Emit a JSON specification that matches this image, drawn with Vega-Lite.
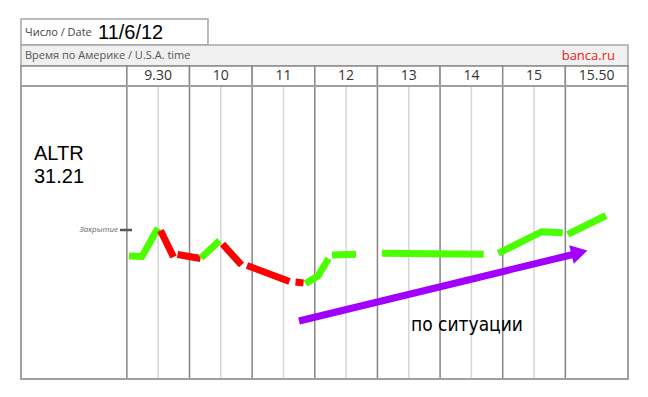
{
  "$schema": "https://vega.github.io/schema/vega-lite/v6.json",
  "padding": {"left": 20, "top": 18, "right": 21, "bottom": 19},
  "autosize": {"type": "pad"},
  "bounds": "flush",
  "background": "white",
  "spacing": 0,
  "config": {"view": {"stroke": null}, "concat": {"spacing": 0}},
  "vconcat": [
    {
      "width": 607,
      "height": 26,
      "encoding": {
        "x": {"field": "s", "type": "quantitative", "scale": {"domain": [-3.38, 16], "nice": false, "zero": false}, "axis": null}
      },
      "layer": [
        {
          "data": {"values": [{"s": -3.38, "s2": 2.59, "r": 0, "r2": 1}]},
          "mark": {"type": "rect", "fill": "white", "stroke": "#a6a6a6", "strokeWidth": 1.5},
          "encoding": {
            "x2": {"field": "s2"},
            "y": {"field": "r", "type": "quantitative", "scale": {"domain": [0, 1]}, "axis": null},
            "y2": {"field": "r2"}
          }
        },
        {
          "data": {"values": [{"s": -3.252, "r": 0.5, "label": "Число / Date"}]},
          "mark": {"type": "text", "align": "left", "baseline": "middle", "font": "Open Sans", "fontSize": 11, "color": "#444444", "dy": 1},
          "encoding": {
            "y": {"field": "r", "type": "quantitative", "scale": {"domain": [0, 1]}, "axis": null},
            "text": {"field": "label"}
          }
        },
        {
          "data": {"values": [{"s": -0.922, "r": 0.5, "label": "11/6/12"}]},
          "mark": {"type": "text", "align": "left", "baseline": "middle", "font": "Liberation Sans", "fontSize": 20, "color": "black", "dy": 1},
          "encoding": {
            "y": {"field": "r", "type": "quantitative", "scale": {"domain": [0, 1]}, "axis": null},
            "text": {"field": "label"}
          }
        }
      ]
    },
    {
      "width": 607,
      "height": 21,
      "encoding": {
        "x": {"field": "s", "type": "quantitative", "scale": {"domain": [-3.38, 16], "nice": false, "zero": false}, "axis": null}
      },
      "layer": [
        {
          "data": {"values": [{"s": -3.38, "s2": 16, "r": 0, "r2": 1}]},
          "mark": {"type": "rect", "fill": "#f0f0f0", "stroke": "#a6a6a6", "strokeWidth": 1.5},
          "encoding": {
            "x2": {"field": "s2"},
            "y": {"field": "r", "type": "quantitative", "scale": {"domain": [0, 1]}, "axis": null},
            "y2": {"field": "r2"}
          }
        },
        {
          "data": {"values": [{"s": -3.252, "r": 0.5, "label": "Время по Америке / U.S.A. time"}]},
          "mark": {"type": "text", "align": "left", "baseline": "middle", "font": "Open Sans", "fontSize": 11, "color": "#555555"},
          "encoding": {
            "y": {"field": "r", "type": "quantitative", "scale": {"domain": [0, 1]}, "axis": null},
            "text": {"field": "label"}
          }
        },
        {
          "data": {"values": [{"s": 15.585, "r": 0.5, "label": "banca.ru"}]},
          "mark": {"type": "text", "align": "right", "baseline": "middle", "font": "Open Sans", "fontSize": 13, "color": "#e3241b"},
          "encoding": {
            "y": {"field": "r", "type": "quantitative", "scale": {"domain": [0, 1]}, "axis": null},
            "text": {"field": "label"}
          }
        }
      ]
    },
    {
      "width": 607,
      "height": 20,
      "encoding": {
        "x": {"field": "s", "type": "quantitative", "scale": {"domain": [-3.38, 16], "nice": false, "zero": false}, "axis": null}
      },
      "layer": [
        {
          "data": {"values": [
            {"s": -3.38, "s2": 0, "r": 0, "r2": 1},
            {"s": 0, "s2": 2, "r": 0, "r2": 1},
            {"s": 2, "s2": 4, "r": 0, "r2": 1},
            {"s": 4, "s2": 6, "r": 0, "r2": 1},
            {"s": 6, "s2": 8, "r": 0, "r2": 1},
            {"s": 8, "s2": 10, "r": 0, "r2": 1},
            {"s": 10, "s2": 12, "r": 0, "r2": 1},
            {"s": 12, "s2": 14, "r": 0, "r2": 1},
            {"s": 14, "s2": 16, "r": 0, "r2": 1}
          ]},
          "mark": {"type": "rect", "fill": "white", "stroke": "#8a8a8a", "strokeWidth": 1.5},
          "encoding": {
            "x2": {"field": "s2"},
            "y": {"field": "r", "type": "quantitative", "scale": {"domain": [0, 1]}, "axis": null},
            "y2": {"field": "r2"}
          }
        },
        {
          "data": {"values": [
            {"s": 1, "r": 0.5, "label": "9.30"},
            {"s": 3, "r": 0.5, "label": "10"},
            {"s": 5, "r": 0.5, "label": "11"},
            {"s": 7, "r": 0.5, "label": "12"},
            {"s": 9, "r": 0.5, "label": "13"},
            {"s": 11, "r": 0.5, "label": "14"},
            {"s": 13, "r": 0.5, "label": "15"},
            {"s": 15, "r": 0.5, "label": "15.50"}
          ]},
          "mark": {"type": "text", "align": "center", "baseline": "middle", "font": "Open Sans", "fontSize": 14, "color": "#333333"},
          "encoding": {
            "y": {"field": "r", "type": "quantitative", "scale": {"domain": [0, 1]}, "axis": null},
            "text": {"field": "label"}
          }
        }
      ]
    },
    {
      "width": 607,
      "height": 293,
      "encoding": {
        "x": {"field": "s", "type": "quantitative", "scale": {"domain": [-3.38, 16], "nice": false, "zero": false}, "axis": null}
      },
      "layer": [
        {
          "data": {"values": [{"s": 1}, {"s": 3}, {"s": 5}, {"s": 7}, {"s": 9}, {"s": 11}, {"s": 13}]},
          "mark": {"type": "rule", "color": "#d6d6d6", "strokeWidth": 1.5},
          "encoding": {}
        },
        {
          "data": {"values": [{"s": 0}, {"s": 2}, {"s": 4}, {"s": 6}, {"s": 8}, {"s": 10}, {"s": 12}, {"s": 14}]},
          "mark": {"type": "rule", "color": "#858585", "strokeWidth": 1.5},
          "encoding": {}
        },
        {
          "data": {"values": [{"s": -3.38, "s2": 16, "p": 29.72, "p2": 32.65}]},
          "mark": {"type": "rect", "filled": false, "stroke": "#a0a0a0", "strokeWidth": 2},
          "encoding": {
            "x2": {"field": "s2"},
            "y": {"field": "p", "type": "quantitative", "scale": {"domain": [29.72, 32.65], "nice": false, "zero": false}, "axis": null},
            "y2": {"field": "p2"}
          }
        },
        {
          "data": {"values": [
            {"seg": 1, "dir": "up", "s": 0.068, "p": 30.95},
            {"seg": 1, "dir": "up", "s": 0.483, "p": 30.945},
            {"seg": 1, "dir": "up", "s": 0.994, "p": 31.23},
            {"seg": 2, "dir": "down", "s": 1.074, "p": 31.205},
            {"seg": 2, "dir": "down", "s": 1.489, "p": 30.94},
            {"seg": 3, "dir": "down", "s": 1.617, "p": 30.965},
            {"seg": 3, "dir": "down", "s": 2.351, "p": 30.925},
            {"seg": 4, "dir": "up", "s": 2.367, "p": 30.93},
            {"seg": 4, "dir": "up", "s": 2.958, "p": 31.105},
            {"seg": 5, "dir": "down", "s": 3.053, "p": 31.07},
            {"seg": 5, "dir": "down", "s": 3.66, "p": 30.86},
            {"seg": 6, "dir": "down", "s": 3.836, "p": 30.855},
            {"seg": 6, "dir": "down", "s": 5.193, "p": 30.695},
            {"seg": 7, "dir": "down", "s": 5.384, "p": 30.69},
            {"seg": 7, "dir": "down", "s": 5.64, "p": 30.68},
            {"seg": 8, "dir": "up", "s": 5.703, "p": 30.675},
            {"seg": 8, "dir": "up", "s": 6.102, "p": 30.75},
            {"seg": 8, "dir": "up", "s": 6.438, "p": 30.925},
            {"seg": 9, "dir": "up", "s": 6.55, "p": 30.96},
            {"seg": 9, "dir": "up", "s": 7.316, "p": 30.967},
            {"seg": 10, "dir": "up", "s": 8.146, "p": 30.977},
            {"seg": 10, "dir": "up", "s": 11.393, "p": 30.967},
            {"seg": 11, "dir": "up", "s": 11.859, "p": 30.977},
            {"seg": 11, "dir": "up", "s": 13.245, "p": 31.193},
            {"seg": 11, "dir": "up", "s": 13.915, "p": 31.183},
            {"seg": 12, "dir": "up", "s": 14.075, "p": 31.167},
            {"seg": 12, "dir": "up", "s": 15.298, "p": 31.355}
          ]},
          "mark": {"type": "line", "strokeWidth": 7, "strokeCap": "butt", "strokeJoin": "miter"},
          "encoding": {
            "y": {"field": "p", "type": "quantitative", "scale": {"domain": [29.72, 32.65], "nice": false, "zero": false}, "axis": null},
            "detail": {"field": "seg", "type": "nominal"},
            "color": {"field": "dir", "type": "nominal", "scale": {"domain": ["up", "down"], "range": ["#4cff00", "#ff0000"]}, "legend": null}
          }
        },
        {
          "data": {"values": [{"s": 5.496, "p": 30.30}, {"s": 14.308, "p": 30.97}]},
          "mark": {"type": "line", "color": "#a100ff", "strokeWidth": 7, "strokeCap": "butt"},
          "encoding": {
            "y": {"field": "p", "type": "quantitative", "scale": {"domain": [29.72, 32.65], "nice": false, "zero": false}, "axis": null}
          }
        },
        {
          "data": {"values": [{"s": 14.45, "p": 30.985}]},
          "mark": {"type": "point", "shape": "triangle-right", "angle": -14, "filled": true, "color": "#a100ff", "opacity": 1, "size": 360},
          "encoding": {
            "y": {"field": "p", "type": "quantitative", "scale": {"domain": [29.72, 32.65], "nice": false, "zero": false}, "axis": null}
          }
        },
        {
          "data": {"values": [{"s": -0.219, "s2": 0.164, "p": 31.21}]},
          "mark": {"type": "rule", "color": "#555555", "strokeWidth": 2.5},
          "encoding": {
            "x2": {"field": "s2"},
            "y": {"field": "p", "type": "quantitative", "scale": {"domain": [29.72, 32.65], "nice": false, "zero": false}, "axis": null}
          }
        },
        {
          "data": {"values": [{"s": -0.283, "p": 31.21, "label": "Закрытие"}]},
          "mark": {"type": "text", "align": "right", "baseline": "middle", "font": "Open Sans", "fontStyle": "italic", "fontSize": 8, "color": "#666666"},
          "encoding": {
            "y": {"field": "p", "type": "quantitative", "scale": {"domain": [29.72, 32.65], "nice": false, "zero": false}, "axis": null},
            "text": {"field": "label"}
          }
        },
        {
          "data": {"values": [{"s": -2.965, "p": 31.91, "label": "ALTR"}, {"s": -2.965, "p": 31.68, "label": "31.21"}]},
          "mark": {"type": "text", "align": "left", "baseline": "alphabetic", "font": "Liberation Sans", "fontSize": 20, "color": "black"},
          "encoding": {
            "y": {"field": "p", "type": "quantitative", "scale": {"domain": [29.72, 32.65], "nice": false, "zero": false}, "axis": null},
            "text": {"field": "label"}
          }
        },
        {
          "data": {"values": [{"s": 9.072, "p": 30.20, "label": "по ситуации"}]},
          "mark": {"type": "text", "align": "left", "baseline": "alphabetic", "font": "DejaVu Sans Condensed, Liberation Sans", "fontSize": 19, "color": "black"},
          "encoding": {
            "y": {"field": "p", "type": "quantitative", "scale": {"domain": [29.72, 32.65], "nice": false, "zero": false}, "axis": null},
            "text": {"field": "label"}
          }
        }
      ]
    }
  ]
}
